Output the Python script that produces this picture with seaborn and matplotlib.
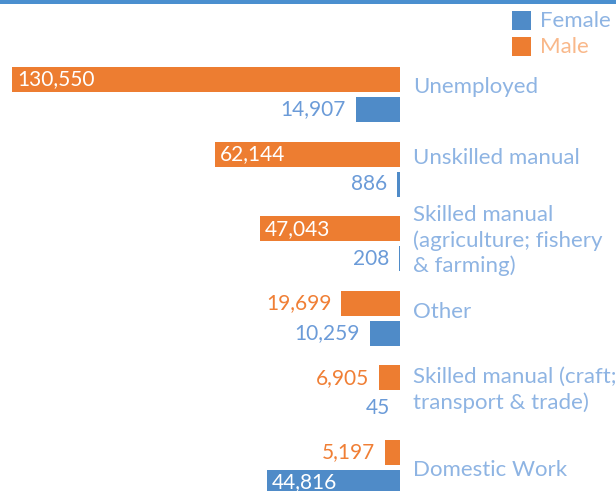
import matplotlib
matplotlib.use("Agg")
import matplotlib.pyplot as plt
from matplotlib.patches import Rectangle
import pandas as pd
import seaborn as sns

categories = [
    "Unemployed",
    "Unskilled manual",
    "Skilled manual\n(agriculture; fishery\n& farming)",
    "Other",
    "Skilled manual (craft;\ntransport & trade)",
    "Domestic Work",
]
male = [130550, 62144, 47043, 19699, 6905, 5197]
female = [14907, 886, 208, 10259, 45, 44816]

ORANGE = "#ed7d31"
BLUE = "#4f8bc8"
LABEL_BLUE = "#8eb4e3"
VAL_BLUE = "#6b9bd8"
VAL_ORANGE = "#f07f35"
PX = 0.72  # points per pixel at dpi 100

sns.set_theme(style="white")
plt.rcParams["font.family"] = ["Lato", "DejaVu Sans"]

df = pd.DataFrame({
    "category": categories * 2,
    "sex": ["Male"] * len(categories) + ["Female"] * len(categories),
    "count": male + female,
})

fig = plt.figure(figsize=(6.16, 4.91), dpi=100)
ax = fig.add_axes([0, 0, 400 / 616, 1])
sns.barplot(data=df, y="category", x="count", hue="sex", hue_order=["Male", "Female"],
            palette={"Male": ORANGE, "Female": BLUE}, orient="h", width=0.804, gap=0.167,
            saturation=1, linewidth=0, legend=False, ax=ax)
ax.set_xlim(134588, 0)
ax.set_ylim(5.315, -1.267)
ax.set_axis_off()

# value labels: inside (white) when the bar is long enough, otherwise outside
for cont, vals, out_col in [(ax.containers[0], male, VAL_ORANGE), (ax.containers[1], female, VAL_BLUE)]:
    for bar, v in zip(cont, vals):
        yc = bar.get_y() + bar.get_height() / 2
        if v > 30000:
            ax.annotate(f"{v:,}", xy=(v, yc), xytext=(5 * PX, 0), textcoords="offset points",
                        ha="left", va="center", color="white", fontsize=15)
        else:
            ax.annotate(f"{v:,}", xy=(v, yc), xytext=(-10 * PX, 0), textcoords="offset points",
                        ha="right", va="center", color=out_col, fontsize=15)

# category labels on the right
nudge = [8, 11, 3, 6, 3, -2]
for i, cat in enumerate(categories):
    ax.annotate(cat, xy=(0, i), xytext=(13 * PX, nudge[i] * PX), textcoords="offset points",
                ha="left", va="center", color=LABEL_BLUE, fontsize=16,
                linespacing=1.3, annotation_clip=False)

# top rule
fig.add_artist(Rectangle((0, 1 - 4 / 491), 1, 4 / 491, transform=fig.transFigure,
                         color="#4a8fcf", lw=0))

# legend
for k, (lab, col, tcol) in enumerate([("Female", BLUE, LABEL_BLUE), ("Male", ORANGE, "#f9b88a")]):
    top = 11 + k * 26
    fig.add_artist(Rectangle((512 / 616, 1 - (top + 19) / 491), 19 / 616, 19 / 491,
                             transform=fig.transFigure, color=col, lw=0))
    fig.text(540 / 616, 1 - (top + 10) / 491, lab, ha="left", va="center",
             color=tcol, fontsize=16)

fig.savefig("out.png", dpi=100)
